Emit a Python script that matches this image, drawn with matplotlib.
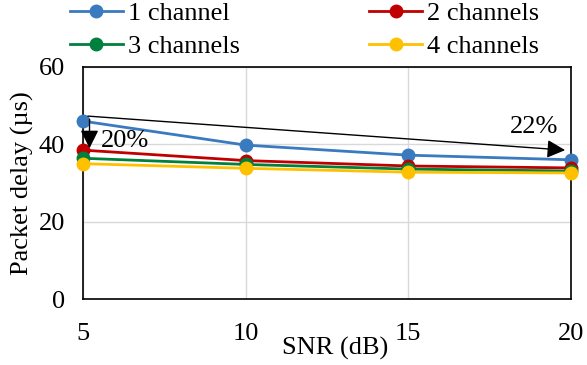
import matplotlib.pyplot as plt

# SNR values and packet delay per number of channels
snr = [5, 10, 15, 20]
ch1 = [46.0, 39.8, 37.2, 36.0]
ch2 = [38.5, 35.8, 34.4, 33.9]
ch3 = [36.4, 34.8, 33.6, 33.1]
ch4 = [35.0, 33.8, 32.8, 32.6]
labels = ['1 channel', '2 channels', '3 channels', '4 channels']
colors = ['#3a7abf', '#c00000', '#00803c', '#ffc000']

plt.rcParams['font.family'] = ['Liberation Serif', 'DejaVu Serif']
plt.rcParams['font.size'] = 19

W, H = 587, 365
fig = plt.figure(figsize=(W / 100, H / 100), dpi=100)
ax = fig.add_axes([83 / W, 1 - 299 / H, 488 / W, 232 / H])

lines = []
for y, lab, c in zip([ch1, ch2, ch3, ch4], labels, colors):
    ln, = ax.plot(snr, y, color=c, lw=2, marker='o', ms=9, label=lab, clip_on=False, zorder=3)
    lines.append(ln)

ax.set_xlim(5, 20)
ax.set_ylim(0, 60)
ax.set_xticks(snr)
ax.set_yticks([0, 20, 40, 60])
ax.grid(True, color='#d9d9d9', lw=1.0)
ax.set_axisbelow(True)
for s in ax.spines.values():
    s.set_color('black')
    s.set_linewidth(1.2)
ax.tick_params(length=0, labelsize=19)
ax.tick_params(axis='x', pad=17)
ax.tick_params(axis='y', pad=13)
ax.set_xlabel('SNR (dB)', fontsize=19, va='center')
ax.xaxis.set_label_coords(0.516, -0.215)
ax.set_ylabel('Packet delay (µs)', fontsize=19, va='center')
ax.yaxis.set_label_coords(-0.125, 0.5)

# annotations
arrow = dict(arrowstyle='-|>,head_length=0.5,head_width=0.25', color='black', lw=1,
             mutation_scale=22, shrinkA=0, shrinkB=0)
ax.annotate('', xy=(19.82, 38.5), xytext=(5.15, 47.3), arrowprops=arrow)
ax.annotate('', xy=(5.2, 39.0), xytext=(5.2, 46.5), arrowprops=arrow)
ax.text(5.55, 40.8, '20%', fontsize=19, ha='left', va='center')
ax.text(19.6, 44.4, '22%', fontsize=19, ha='right', va='center')

order = [0, 2, 1, 3]
fig.legend([lines[i] for i in order], [labels[i] for i in order],
           loc='upper left', bbox_to_anchor=(70 / W, 1 - 2 / H), ncol=2, frameon=False,
           borderpad=0, borderaxespad=0, columnspacing=4.9, handlelength=2.0,
           handletextpad=0.2, labelspacing=0.34, fontsize=19)

fig.savefig('out.png', dpi=100)
